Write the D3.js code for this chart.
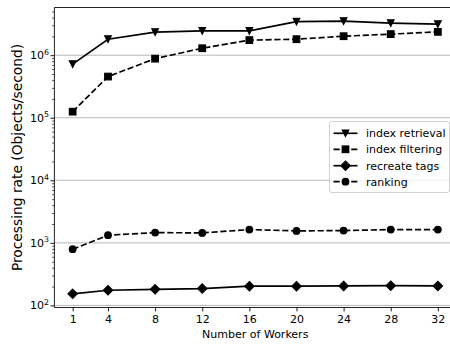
<!DOCTYPE html>
<html>
<head>
<meta charset="utf-8">
<script src="https://cdn.jsdelivr.net/npm/d3@7"></script>
<style>
  html, body { margin: 0; padding: 0; background: #fff; }
  svg { display: block; font-family: "DejaVu Sans", sans-serif; }
</style>
</head>
<body>
<svg id="chart" width="450" height="345"></svg>
<script>
// Throughput per stage, by number of workers (log scale)
const workers = [1, 4, 8, 12, 16, 20, 24, 28, 32];
const indexRetrieval = [7.2e5, 1.8e6, 2.33e6, 2.45e6, 2.45e6, 3.44e6, 3.5e6, 3.25e6, 3.13e6];
const indexFiltering = [1.25e5, 4.55e5, 8.8e5, 1.29e6, 1.74e6, 1.8e6, 2.01e6, 2.17e6, 2.36e6];
const recreateTags = [153, 175, 181, 186, 203, 203, 205, 207, 205];
const ranking = [791, 1325, 1458, 1443, 1629, 1553, 1570, 1630, 1630];
const seriesNames = ["index retrieval", "index filtering", "recreate tags", "ranking"];
const yTickExponents = [2, 3, 4, 5, 6];

const series = [
  { name: seriesNames[0], values: indexRetrieval, dashed: false, marker: "tri" },
  { name: seriesNames[1], values: indexFiltering, dashed: true, marker: "square" },
  { name: seriesNames[2], values: recreateTags, dashed: false, marker: "diamond" },
  { name: seriesNames[3], values: ranking, dashed: true, marker: "circle" }
];

const svg = d3.select("#chart");
const plot = { left: 54.4, right: 456.1, top: 7.5, bottom: 307.5 };
const fontSize = 11;
const lw = 1.67;
const ms = 6.67;

// x: linear with 5% padding
const xMin = d3.min(workers), xMax = d3.max(workers);
const xPad = (xMax - xMin) * 0.05;
const x = d3.scaleLinear().domain([xMin - xPad, xMax + xPad]).range([plot.left, plot.right]);

// y: log with 5% padding in log space
const allVals = series.flatMap(s => s.values);
const lo = Math.log10(d3.min(allVals)), hi = Math.log10(d3.max(allVals));
const yPad = (hi - lo) * 0.05;
const y = d3.scaleLog().domain([Math.pow(10, lo - yPad), Math.pow(10, hi + yPad)]).range([plot.bottom, plot.top]);

// horizontal grid at decades
svg.append("g").selectAll("line")
  .data(yTickExponents)
  .join("line")
  .attr("x1", plot.left).attr("x2", plot.right)
  .attr("y1", d => y(Math.pow(10, d))).attr("y2", d => y(Math.pow(10, d)))
  .attr("stroke", "#b0b0b0").attr("stroke-width", 0.9);

// axes via d3-axis
const xAxis = d3.axisBottom(x).tickValues(workers).tickSize(3.9).tickPadding(4).tickFormat(d3.format("d"));
const gx = svg.append("g").attr("transform", `translate(0,${plot.bottom})`).call(xAxis);
gx.select(".domain").remove();
gx.selectAll(".tick line").attr("stroke", "#000").attr("stroke-width", 0.9);
gx.selectAll(".tick text").attr("font-size", fontSize).attr("font-family", "DejaVu Sans").attr("fill", "#000");

// minor ticks on y
const [d0, d1] = y.domain();
const minorVals = [];
for (let e = Math.floor(Math.log10(d0)); e <= Math.ceil(Math.log10(d1)); e++) {
  for (let m = 2; m <= 9; m++) {
    const v = m * Math.pow(10, e);
    if (v >= d0 && v <= d1) minorVals.push(v);
  }
}
const yMinor = d3.axisLeft(y).tickValues(minorVals).tickSize(2.2).tickFormat("");
const gym = svg.append("g").attr("transform", `translate(${plot.left},0)`).call(yMinor);
gym.select(".domain").remove();
gym.selectAll(".tick line").attr("stroke", "#000").attr("stroke-width", 0.7);

const yAxis = d3.axisLeft(y).tickValues(yTickExponents.map(e => Math.pow(10, e))).tickSize(3.9).tickFormat("");
const gy = svg.append("g").attr("transform", `translate(${plot.left},0)`).call(yAxis);
gy.select(".domain").remove();
gy.selectAll(".tick line").attr("stroke", "#000").attr("stroke-width", 0.9);

// y tick labels as 10 with superscript exponent
const ylab = svg.append("g");
yTickExponents.forEach(e => {
  const t = ylab.append("text")
    .attr("x", plot.left - 5.5)
    .attr("y", y(Math.pow(10, e)) + 4)
    .attr("text-anchor", "end")
    .attr("font-size", fontSize)
    .attr("fill", "#000");
  t.append("tspan").text("10");
  t.append("tspan").attr("font-size", 7.8).attr("dy", -4.6).text(String(e));
});

// spines: left, top, bottom
const spine = svg.append("g").attr("stroke", "#222").attr("stroke-width", 1).attr("fill", "none");
spine.append("line").attr("x1", plot.left).attr("x2", plot.left).attr("y1", plot.top).attr("y2", plot.bottom);
spine.append("line").attr("x1", plot.left).attr("x2", plot.right).attr("y1", plot.top).attr("y2", plot.top);
spine.append("line").attr("x1", plot.left).attr("x2", plot.right).attr("y1", plot.bottom).attr("y2", plot.bottom);
spine.append("line").attr("x1", plot.right).attr("x2", plot.right).attr("y1", plot.top).attr("y2", plot.bottom);

// axis labels
svg.append("text")
  .attr("x", (plot.left + plot.right) / 2).attr("y", 338)
  .attr("text-anchor", "middle").attr("font-size", fontSize).attr("fill", "#000")
  .text("Number of Workers");
svg.append("text")
  .attr("transform", `translate(22,${(plot.top + plot.bottom) / 2}) rotate(-90)`)
  .attr("text-anchor", "middle").attr("font-size", 13.8).attr("fill", "#000")
  .text("Processing rate (Objects/second)");

// marker drawing
function drawMarker(g, type, cx, cy) {
  const h = ms / 2;
  let node;
  if (type === "circle") {
    node = g.append("circle").attr("cx", cx).attr("cy", cy).attr("r", h);
  } else if (type === "square") {
    node = g.append("rect").attr("x", cx - h).attr("y", cy - h).attr("width", ms).attr("height", ms);
  } else if (type === "diamond") {
    const r = h * Math.SQRT2;
    node = g.append("path").attr("d", `M${cx},${cy - r}L${cx + r},${cy}L${cx},${cy + r}L${cx - r},${cy}Z`);
  } else {
    node = g.append("path").attr("d", `M${cx - h},${cy - h}L${cx + h},${cy - h}L${cx},${cy + h}Z`);
  }
  node.attr("fill", "#000").attr("stroke", "#000").attr("stroke-width", 1.1).attr("stroke-linejoin", "miter");
}

const line = d3.line().x((d, i) => x(workers[i])).y(d => y(d));
const marks = svg.append("g");
series.forEach(s => {
  marks.append("path")
    .attr("d", line(s.values))
    .attr("fill", "none").attr("stroke", "#000").attr("stroke-width", lw)
    .attr("stroke-dasharray", s.dashed ? `${3.7 * lw},${1.6 * lw}` : null);
  const mg = marks.append("g");
  s.values.forEach((v, i) => drawMarker(mg, s.marker, x(workers[i]), y(v)));
});

// legend
const leg = svg.append("g");
const legBox = { x: 329.5, y: 121.5, w: 120, h: 71 };
leg.append("rect")
  .attr("x", legBox.x).attr("y", legBox.y).attr("width", legBox.w).attr("height", legBox.h)
  .attr("rx", 2.5).attr("fill", "#fff").attr("fill-opacity", 0.8)
  .attr("stroke", "#cccccc").attr("stroke-width", 0.9);
const rowY = [133.3, 149.3, 165.7, 181.7];
series.forEach((s, i) => {
  const yy = rowY[i];
  leg.append("line")
    .attr("x1", 333.5).attr("x2", 357.5).attr("y1", yy).attr("y2", yy)
    .attr("stroke", "#000").attr("stroke-width", lw)
    .attr("stroke-dasharray", s.dashed ? `${3.7 * lw},${1.6 * lw}` : null);
  drawMarker(leg, s.marker, 345.5, yy);
  leg.append("text")
    .attr("x", 366).attr("y", yy + 4)
    .attr("font-size", fontSize).attr("fill", "#000")
    .text(s.name);
});
</script>
</body>
</html>
